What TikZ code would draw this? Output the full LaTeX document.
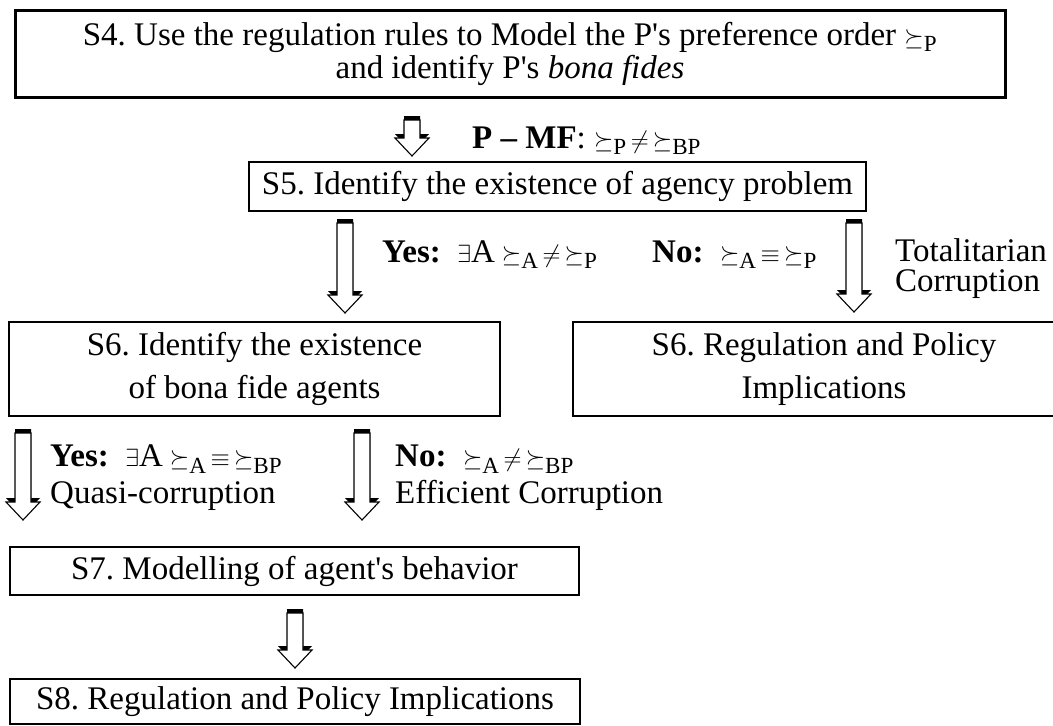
\documentclass[tikz,border=0pt]{standalone}
\usepackage{amsmath,amssymb}
\usepackage{fontspec}
\setmainfont{Liberation Serif}
\usetikzlibrary{calc}
\frenchspacing

% hollow down arrow with a dark rim on top
\newcommand{\fatarrow}[2]{%
  \fill[black] let \p1=(#1), \p2=(#2) in
    (\x1-8pt,\y1+4pt) -- (\x1+8pt,\y1+4pt) -- (\x1+8pt,\y2+22pt) -- (\x1+17pt,\y2+22pt)
    -- (\x1,\y2+4pt) -- (\x1-17pt,\y2+22pt) -- (\x1-8pt,\y2+22pt) -- cycle;
  \draw[line width=1.1pt,fill=white] let \p1=(#1), \p2=(#2) in
    (\x1-8pt,\y1) -- (\x1+8pt,\y1) -- (\x1+8pt,\y2+18pt) -- (\x1+17pt,\y2+18pt)
    -- (\x1,\y2) -- (\x1-17pt,\y2+18pt) -- (\x1-8pt,\y2+18pt) -- cycle;
}
\newcommand{\pref}[1]{\succeq_{\text{#1}}}

\begin{document}
\begin{tikzpicture}[x=1pt,y=-1pt,
  stepbox/.style={draw,line width=2.4pt,align=center,inner sep=0pt,font=\fontsize{33}{43}\selectfont},
  note/.style={align=left,inner sep=0pt,font=\fontsize{33}{37}\selectfont}]
  \clip (0,0) rectangle (1053,726);

  % steps
  \node[stepbox,line width=3pt,minimum width=990,minimum height=87,font=\fontsize{33}{33}\selectfont] (s4) at (510,53.5)
    {S4. Use the regulation rules to Model the P\textquotesingle s preference order $\pref{P}$\\and identify P\textquotesingle s \textit{bona fides}};
  \node[stepbox,minimum width=617,minimum height=49] (s5) at (557.5,186.5)
    {S5. Identify the existence of agency problem};
  \node[stepbox,minimum width=491,minimum height=94] (s6a) at (254.5,369)
    {S6. Identify the existence\\of bona fide agents};
  \node[stepbox,minimum width=502,minimum height=94] (s6b) at (824,369)
    {S6. Regulation and Policy\\Implications};
  \node[stepbox,minimum width=569,minimum height=48] (s7) at (294.5,571)
    {S7. Modelling of agent\textquotesingle s behavior};
  \node[stepbox,minimum width=570,minimum height=45] (s8) at (295,701.5)
    {S8. Regulation and Policy Implications};

  % labels
  \node[note,anchor=base west] (pmf) at (472,148) {\textbf{P -- MF}: $\pref{P}\,\neq\,\pref{BP}$};
  \node[note,anchor=base west] (yes1) at (382,262) {\textbf{Yes:}~ $\exists\text{A}\pref{A}\,\neq\,\pref{P}$};
  \node[note,anchor=base west] (no1) at (652,262) {\textbf{No:}~ $\pref{A}\,\equiv\,\pref{P}$};
  \node[note,anchor=west,font=\fontsize{33}{30}\selectfont] (total) at (895,269) {Totalitarian\\Corruption};
  \node[note,anchor=west] (yes2) at (50,478) {\textbf{Yes:}~ $\exists\text{A}\pref{A}\,\equiv\,\pref{BP}$\\Quasi-corruption};
  \node[note,anchor=west] (no2) at (395,478) {\textbf{No:}~ $\pref{A}\,\neq\,\pref{BP}$\\Efficient Corruption};

  % arrows
  \coordinate (ar1a) at (412,120);
  \coordinate (ar1b) at (412,156);
  \coordinate (ar2a) at (345,223);
  \coordinate (ar2b) at (345,313);
  \coordinate (ar3a) at (854,223);
  \coordinate (ar3b) at (854,312);
  \coordinate (ar4a) at (23,433);
  \coordinate (ar4b) at (23,520);
  \coordinate (ar5a) at (362,433);
  \coordinate (ar5b) at (362,520);
  \coordinate (ar6a) at (295,613);
  \coordinate (ar6b) at (295,668);
  \fatarrow{ar1a}{ar1b}
  \fatarrow{ar2a}{ar2b}
  \fatarrow{ar3a}{ar3b}
  \fatarrow{ar4a}{ar4b}
  \fatarrow{ar5a}{ar5b}
  \fatarrow{ar6a}{ar6b}
\end{tikzpicture}
\end{document}
